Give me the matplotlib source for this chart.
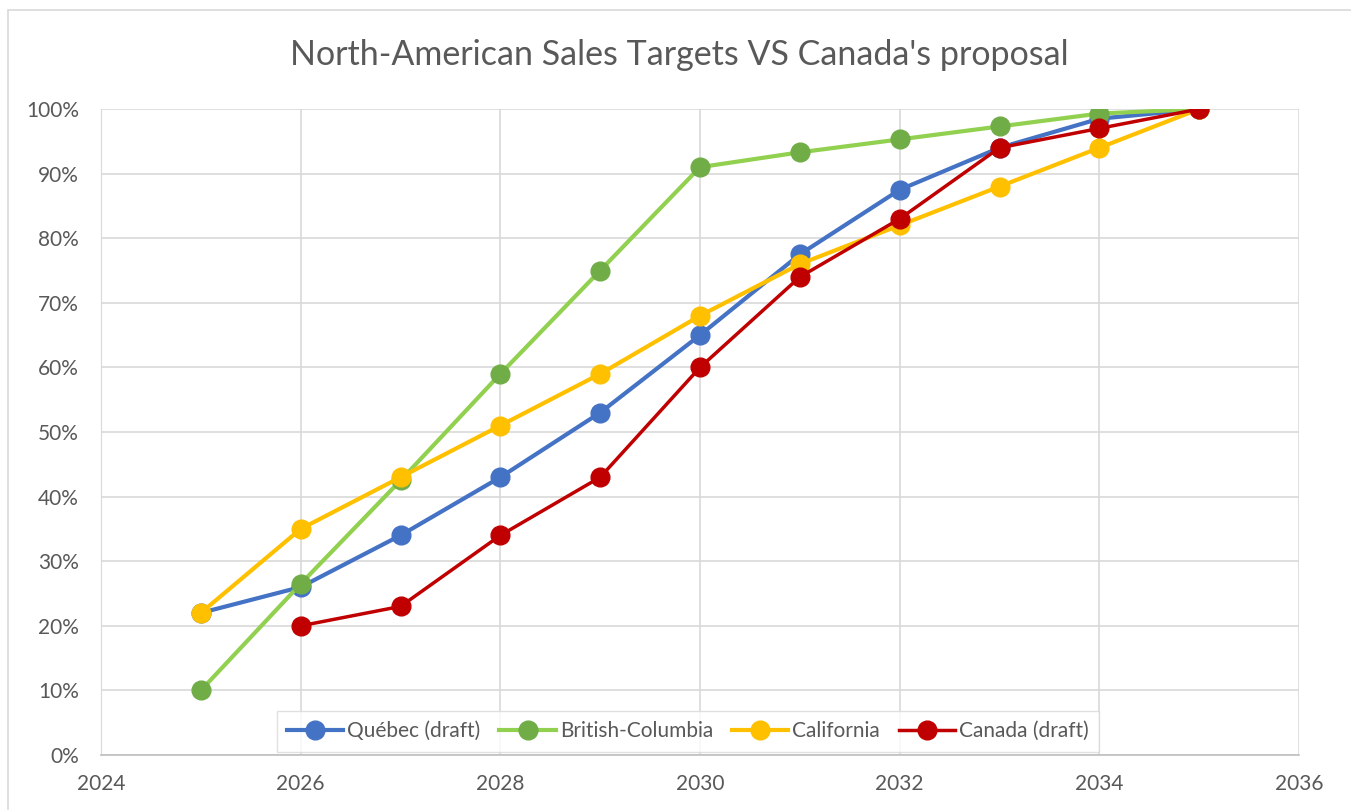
import matplotlib.pyplot as plt
from matplotlib.patches import Rectangle
from matplotlib.ticker import FuncFormatter

plt.rcParams['font.family'] = ['Lato', 'DejaVu Sans']

years = [2025, 2026, 2027, 2028, 2029, 2030, 2031, 2032, 2033, 2034, 2035]
quebec = [22, 26, 34, 43, 53, 65, 77.5, 87.5, 94, 98.5, 100]
bc = [10, 26.5, 42.5, 59, 75, 91, 93.3, 95.3, 97.3, 99.3, 100]
california = [22, 35, 43, 51, 59, 68, 76, 82, 88, 94, 100]
canada_years = [2026, 2027, 2028, 2029, 2030, 2031, 2032, 2033, 2034, 2035]
canada = [20, 23, 34, 43, 60, 74, 83, 94, 97, 100]

fig = plt.figure(figsize=(13.51, 8.1), dpi=100)
ax = fig.add_axes([0.0748, 0.0679, 0.8867, 0.7975])

# light frame around the whole chart
fig.patches.append(Rectangle((8 / 1351, -0.01), 1.0, 1 - 10 / 810 + 0.01,
                             transform=fig.transFigure, fill=False,
                             edgecolor='#d9d9d9', linewidth=1.2))

ax.plot(years, quebec, color='#4472C4', lw=3, marker='o', ms=13.5,
        label='Québec (draft)')
ax.plot(years, bc, color='#92D050', lw=3, marker='o', ms=13.5,
        markerfacecolor='#70AD47', markeredgecolor='#70AD47',
        label='British-Columbia')
ax.plot(years, california, color='#FFC000', lw=3, marker='o', ms=13.5,
        label='California')
ax.plot(canada_years, canada, color='#C00000', lw=2.5, marker='o', ms=13.5,
        label='Canada (draft)')

ax.set_xlim(2024, 2036)
ax.set_ylim(0, 100)
ax.set_xticks(range(2024, 2037, 2))
ax.set_yticks(range(0, 101, 10))
ax.yaxis.set_major_formatter(FuncFormatter(lambda v, p: f'{v:.0f}%'))
ax.grid(True, color='#d9d9d9', lw=1.2)
ax.set_axisbelow(True)
for s in ['top', 'right']:
    ax.spines[s].set_visible(False)
ax.spines['left'].set_color('#d9d9d9')
ax.spines['bottom'].set_color('#bfbfbf')
ax.spines['bottom'].set_linewidth(1.2)
ax.tick_params(length=0, labelsize=15, colors='#595959')
ax.tick_params(axis='y', pad=16)
ax.tick_params(axis='x', pad=14)

# title is centred on the whole chart, not the plot area
fig.text(0.503, 0.932, "North-American Sales Targets VS Canada's proposal",
         fontsize=24.5, color='#595959', ha='center', va='center')

leg = ax.legend(loc='lower center', ncol=4, fontsize=15, frameon=True,
                fancybox=False, edgecolor='#d9d9d9', handlelength=2.7,
                handletextpad=0.2, columnspacing=0.9, borderpad=0.5,
                bbox_to_anchor=(0.49, -0.011))
for t in leg.get_texts():
    t.set_color('#595959')

plt.savefig('out.png', dpi=100)
plt.close()
